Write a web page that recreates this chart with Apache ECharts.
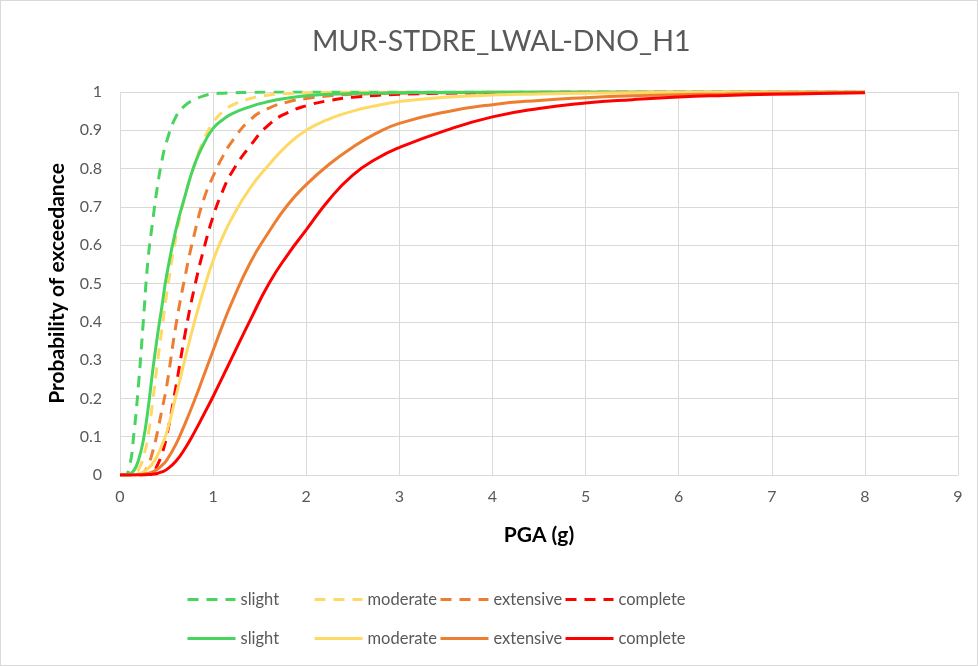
<!DOCTYPE html>
<html>
<head>
<meta charset="utf-8">
<script src="https://cdn.jsdelivr.net/npm/echarts@6/dist/echarts.min.js"></script>
<style>
  html, body { margin: 0; padding: 0; background: #ffffff; }
  #chart { width: 978px; height: 666px; box-sizing: border-box; border: 1px solid #D9D9D9; }
</style>
</head>
<body>
<div id="chart"></div>
<script>
// ---- data ----
const chartTitle = 'MUR-STDRE_LWAL-DNO_H1';
const xAxisName = 'PGA (g)';
const yAxisName = 'Probability of exceedance';
const xTicks = [0, 1, 2, 3, 4, 5, 6, 7, 8, 9];
const yTicks = [0, 0.1, 0.2, 0.3, 0.4, 0.5, 0.6, 0.7, 0.8, 0.9, 1];

const pga = [0, 0.05, 0.1, 0.15, 0.2, 0.25, 0.3, 0.35, 0.4, 0.45, 0.5, 0.6, 0.7, 0.8, 0.9, 1.0, 1.1, 1.2, 1.4, 1.6, 1.8, 2.0, 2.25, 2.5, 2.75, 3.0, 3.5, 4.0, 4.5, 5.0, 5.5, 6.0, 6.5, 7.0, 7.5, 8.0];

// dashed curves
const slightDashed    = [0, 0, 0.02, 0.11, 0.24, 0.40, 0.56, 0.66, 0.75, 0.82, 0.87, 0.935, 0.965, 0.98, 0.99, 0.995, 0.997, 0.998, 0.999, 1, 1, 1, 1, 1, 1, 1, 1, 1, 1, 1, 1, 1, 1, 1, 1, 1];
const moderateDashed  = [0, 0, 0, 0.003, 0.015, 0.045, 0.10, 0.19, 0.29, 0.38, 0.47, 0.62, 0.73, 0.81, 0.875, 0.92, 0.948, 0.965, 0.983, 0.992, 0.996, 0.998, 0.999, 1, 1, 1, 1, 1, 1, 1, 1, 1, 1, 1, 1, 1];
const extensiveDashed = [0, 0, 0, 0, 0.001, 0.006, 0.025, 0.06, 0.11, 0.17, 0.23, 0.39, 0.52, 0.63, 0.72, 0.78, 0.83, 0.87, 0.928, 0.958, 0.974, 0.983, 0.99, 0.994, 0.996, 0.997, 0.998, 0.999, 1, 1, 1, 1, 1, 1, 1, 1];
const completeDashed  = [0, 0, 0, 0, 0, 0, 0.001, 0.006, 0.025, 0.055, 0.10, 0.23, 0.37, 0.49, 0.59, 0.675, 0.74, 0.79, 0.86, 0.915, 0.946, 0.964, 0.978, 0.986, 0.991, 0.994, 0.997, 0.998, 0.999, 1, 1, 1, 1, 1, 1, 1];

// solid curves
const slightSolid     = [0, 0, 0.002, 0.012, 0.04, 0.09, 0.17, 0.27, 0.36, 0.44, 0.52, 0.64, 0.73, 0.81, 0.865, 0.905, 0.927, 0.943, 0.962, 0.975, 0.984, 0.99, 0.994, 0.996, 0.997, 0.998, 0.999, 1, 1, 1, 1, 1, 1, 1, 1, 1];
const moderateSolid   = [0, 0, 0, 0.001, 0.003, 0.008, 0.017, 0.03, 0.05, 0.078, 0.11, 0.205, 0.305, 0.40, 0.485, 0.56, 0.62, 0.67, 0.75, 0.81, 0.862, 0.90, 0.93, 0.95, 0.964, 0.975, 0.986, 0.992, 0.995, 0.997, 0.998, 0.999, 1, 1, 1, 1];
const extensiveSolid  = [0, 0, 0, 0, 0.001, 0.002, 0.004, 0.008, 0.015, 0.025, 0.038, 0.08, 0.135, 0.195, 0.26, 0.325, 0.39, 0.45, 0.555, 0.635, 0.705, 0.758, 0.812, 0.856, 0.892, 0.918, 0.948, 0.967, 0.978, 0.985, 0.99, 0.993, 0.995, 0.997, 0.998, 0.999];
const completeSolid   = [0, 0, 0, 0, 0, 0.0005, 0.001, 0.002, 0.004, 0.008, 0.014, 0.036, 0.07, 0.112, 0.158, 0.205, 0.255, 0.305, 0.405, 0.50, 0.575, 0.64, 0.72, 0.783, 0.825, 0.855, 0.90, 0.935, 0.957, 0.971, 0.98, 0.987, 0.991, 0.994, 0.996, 0.998];

const stateNames = ['slight', 'moderate', 'extensive', 'complete'];
const stateColors = ['#47D45F', '#FFD966', '#ED7D31', '#FF0000'];
const dashedData = [slightDashed, moderateDashed, extensiveDashed, completeDashed];
const solidData = [slightSolid, moderateSolid, extensiveSolid, completeSolid];

// ---- chart ----
const textColor = '#595959';
const gridColor = '#D9D9D9';
const font = 'Lato, "Open Sans", "Liberation Sans", sans-serif';
const dashPattern = [11, 8];

function pairs(arr) { return pga.map((x, i) => [x, arr[i]]); }

const series = [];
const legends = [];
const legendLefts = [185, 312, 438, 563];
stateNames.forEach((name, i) => {
  series.push({
    name: name + '_d', type: 'line', data: pairs(dashedData[i]),
    showSymbol: false, symbol: 'none', smooth: 0.5,
    lineStyle: { color: stateColors[i], width: 3, type: dashPattern },
    itemStyle: { color: stateColors[i] }, z: 3
  });
});
stateNames.forEach((name, i) => {
  series.push({
    name: name + '_s', type: 'line', data: pairs(solidData[i]),
    showSymbol: false, symbol: 'none', smooth: 0.5,
    lineStyle: { color: stateColors[i], width: 3, type: 'solid' },
    itemStyle: { color: stateColors[i] }, z: 4
  });
});
['_d', '_s'].forEach((suf, r) => {
  stateNames.forEach((name, i) => {
    legends.push({
      data: [name + suf], left: legendLefts[i], top: r === 0 ? 590 : 629,
      padding: 0, itemWidth: 48, itemHeight: 14, itemGap: 0, selectedMode: false,
      itemStyle: { opacity: 0 },
      lineStyle: { width: 3, color: stateColors[i], type: r === 0 ? dashPattern : 'solid' },
      formatter: (n) => n.replace(/_[ds]$/, ''),
      textStyle: { color: textColor, fontSize: 16.5, fontFamily: font }
    });
  });
});

const chart = echarts.init(document.getElementById('chart'), null, { renderer: 'canvas' });
chart.setOption({
  animation: false,
  backgroundColor: '#ffffff',
  title: {
    text: chartTitle, left: 311, top: 26, padding: 0,
    textStyle: { color: textColor, fontSize: 28.5, fontWeight: 'normal', fontFamily: font }
  },
  legend: legends,
  grid: { left: 119, right: 19, top: 91, bottom: 190, containLabel: false },
  xAxis: {
    type: 'value', min: xTicks[0], max: xTicks[xTicks.length - 1], interval: 1,
    name: xAxisName, nameLocation: 'middle', nameGap: 50,
    nameTextStyle: { color: '#000', fontSize: 21, fontWeight: 'bold', fontFamily: font },
    axisLine: { show: true, lineStyle: { color: gridColor, width: 1 } },
    axisTick: { show: false },
    axisLabel: { color: textColor, fontSize: 16, margin: 14, fontFamily: font },
    splitLine: { show: true, lineStyle: { color: gridColor, width: 1 } }
  },
  yAxis: {
    type: 'value', min: yTicks[0], max: yTicks[yTicks.length - 1], interval: 0.1,
    name: yAxisName, nameLocation: 'middle', nameGap: 52, nameRotate: 90,
    nameTextStyle: { color: '#000', fontSize: 21, fontWeight: 'bold', fontFamily: font },
    axisLine: { show: false },
    axisTick: { show: false },
    axisLabel: { color: textColor, fontSize: 16, margin: 18, fontFamily: font,
      formatter: (v) => String(Math.round(v * 10) / 10) },
    splitLine: { show: true, lineStyle: { color: gridColor, width: 1 } }
  },
  series: series
});
</script>
</body>
</html>
